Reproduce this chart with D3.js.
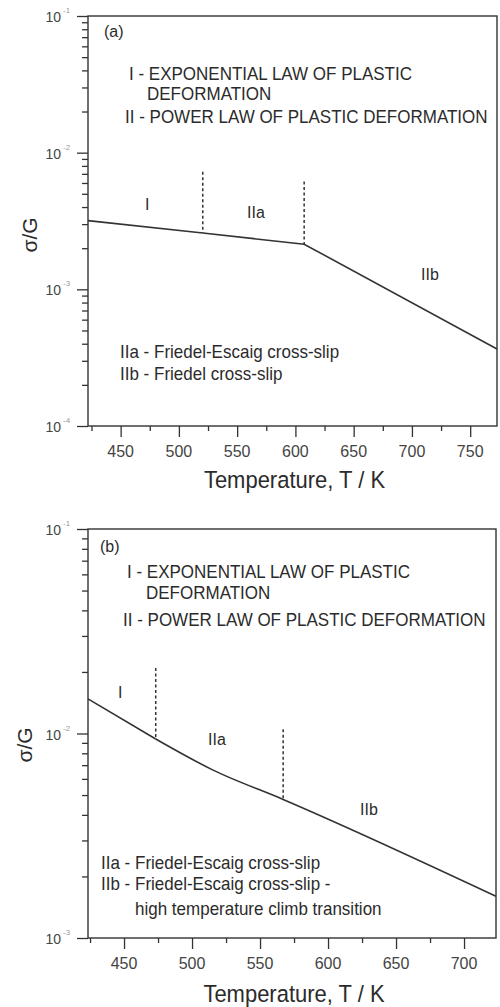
<!DOCTYPE html>
<html><head><meta charset="utf-8">
<script src="https://cdn.jsdelivr.net/npm/d3@7"></script>
<style>
body{margin:0;background:#fff;}
svg text{font-family:"Liberation Sans",Arial,Helvetica,sans-serif;fill:#2b2b2b;}
</style></head><body>
<svg id="chart" width="500" height="1007"></svg>
<script>
// Panel (a): flow stress vs temperature
const tempA = [422, 520.5, 607.5, 773];
const stressA = [3.18e-3, 2.58e-3, 2.14e-3, 3.66e-4];
const boundaryTempA = [520.5, 607.5];
const boundaryTopA = [7.26e-3, 6.14e-3];
const xTicksA = [450, 500, 550, 600, 650, 700, 750];
const yExpA = [-1, -2, -3, -4];

// Panel (b)
const tempB = [423.5, 473.3, 515.5, 567, 723.5];
const stressB = [0.01476, 9.4e-3, 6.62e-3, 4.76e-3, 1.60e-3];
const boundaryTempB = [473.3, 567];
const boundaryTopB = [0.0209, 0.0105];
const xTicksB = [450, 500, 550, 600, 650, 700];
const yExpB = [-1, -2, -3];

// Text
const regionLabels = ["I", "IIa", "IIb"];
const lawLines = ["I - EXPONENTIAL LAW OF PLASTIC", "DEFORMATION", "II - POWER LAW OF PLASTIC DEFORMATION"];
const mechA = ["IIa - Friedel-Escaig cross-slip", "IIb - Friedel cross-slip"];
const mechB = ["IIa - Friedel-Escaig cross-slip", "IIb - Friedel-Escaig cross-slip -", "high temperature climb transition"];
const xTitle = "Temperature, T / K";
const yTitle = "\u03C3/G";

const svg = d3.select("#chart");
const INK = "#333";

function txt(g, x, y, s, size, anchor) {
  return g.append("text")
    .attr("transform", `translate(${x},${y}) scale(1,1.08)`)
    .attr("font-size", size)
    .attr("text-anchor", anchor || "start")
    .text(s);
}

function panel(cfg) {
  const g = svg.append("g");
  const x = d3.scaleLinear().domain(cfg.xDomain).range([cfg.left, cfg.right]);
  const y = d3.scaleLog().domain([Math.pow(10, d3.min(cfg.yExp)), Math.pow(10, d3.max(cfg.yExp))])
    .range([cfg.bottom, cfg.top]);

  // y axis: major and minor ticks
  const minorY = [];
  cfg.yExp.slice(0, -1).forEach(e => {
    for (let m = 2; m <= 9; m++) minorY.push(m * Math.pow(10, e - 1));
  });
  const majorY = cfg.yExp.map(e => Math.pow(10, e));
  const yMinorAxis = d3.axisLeft(y).tickValues(minorY).tickSize(6).tickFormat("");
  const yMajorAxis = d3.axisLeft(y).tickValues(majorY).tickSize(11).tickFormat("");
  [yMinorAxis, yMajorAxis].forEach(ax => {
    const a = g.append("g").attr("transform", `translate(${cfg.left},0)`).call(ax);
    a.select(".domain").remove();
    a.selectAll("line").attr("stroke", INK).attr("stroke-width", 1.3);
  });

  // y tick labels as 10 with superscript exponent
  cfg.yExp.forEach(e => {
    const v = Math.pow(10, e);
    txt(g, cfg.left - 27, y(v) + 6, "10", 14, "end").style("fill", "#444");
    g.append("text").attr("x", cfg.left - 25).attr("y", y(v) - 3)
      .attr("font-size", 8).style("fill", "#999").text(String(e));
  });

  // x axis: major and minor ticks
  const minorX = d3.range(cfg.xTicks[0] - 25, cfg.xDomain[1], 50).filter(t => t >= cfg.xDomain[0]);
  const xMinorAxis = d3.axisBottom(x).tickValues(minorX).tickSize(5).tickFormat("");
  const xMajorAxis = d3.axisBottom(x).tickValues(cfg.xTicks).tickSize(11).tickFormat("");
  [xMinorAxis, xMajorAxis].forEach(ax => {
    const a = g.append("g").attr("transform", `translate(0,${cfg.bottom})`).call(ax);
    a.select(".domain").remove();
    a.selectAll("line").attr("stroke", INK).attr("stroke-width", 1.3);
  });
  cfg.xTicks.forEach(t => txt(g, x(t), cfg.bottom + 31, String(t), 16, "middle").style("fill", "#444"));

  // frame
  g.append("rect").attr("x", cfg.left).attr("y", cfg.top)
    .attr("width", cfg.right - cfg.left).attr("height", cfg.bottom - cfg.top)
    .attr("fill", "none").attr("stroke", INK).attr("stroke-width", 1.4);

  // stress curve: straight up to the first boundary, smooth beyond it
  const pts = d3.zip(cfg.temp, cfg.stress);
  const k = cfg.temp.indexOf(cfg.boundaryTemp[0]);
  const straight = d3.line().x(d => x(d[0])).y(d => y(d[1]));
  const smooth = d3.line().x(d => x(d[0])).y(d => y(d[1]))
    .curve(cfg.smooth ? d3.curveMonotoneX : d3.curveLinear);
  g.append("path").datum(pts.slice(0, k + 1)).attr("d", straight)
    .attr("fill", "none").attr("stroke", INK).attr("stroke-width", 1.6);
  g.append("path").datum(pts.slice(k)).attr("d", smooth)
    .attr("fill", "none").attr("stroke", INK).attr("stroke-width", 1.6);

  // regime boundaries
  cfg.boundaryTemp.forEach((t, i) => {
    const idx = cfg.temp.indexOf(t);
    g.append("line")
      .attr("x1", x(t)).attr("x2", x(t))
      .attr("y1", y(cfg.boundaryTop[i])).attr("y2", y(cfg.stress[idx]))
      .attr("stroke", INK).attr("stroke-width", 1.5).attr("stroke-dasharray", "3,2.5");
  });

  // region labels
  cfg.regionPos.forEach((p, i) => txt(g, p[0], p[1], regionLabels[i], 16));

  // panel tag and deformation-law key
  txt(g, cfg.tagPos[0], cfg.tagPos[1], cfg.tag, 16);
  lawLines.forEach((s, i) => txt(g, cfg.lawPos[i][0], cfg.lawPos[i][1], s, 17));
  cfg.mech.forEach((s, i) => txt(g, cfg.mechPos[i][0], cfg.mechPos[i][1], s, 17));

  // axis titles
  txt(g, (cfg.left + cfg.right) / 2 + 2, cfg.bottom + cfg.titleOffset, xTitle, 22, "middle");
  g.append("text")
    .attr("transform", `translate(${cfg.yTitlePos[0]},${cfg.yTitlePos[1]}) rotate(-90)`)
    .attr("font-size", 21).attr("text-anchor", "middle").text(yTitle);
}

panel({
  left: 88, right: 497, top: 16, bottom: 426,
  xDomain: [422, 773], xTicks: xTicksA, yExp: yExpA, smooth: false,
  temp: tempA, stress: stressA, boundaryTemp: boundaryTempA, boundaryTop: boundaryTopA,
  regionPos: [[145, 210], [247, 218], [421, 280]],
  tag: "(a)", tagPos: [104, 37],
  lawPos: [[129, 80], [147, 100], [125, 123]],
  mech: mechA, mechPos: [[120, 358], [120, 380]],
  titleOffset: 62, yTitlePos: [37, 235]
});

panel({
  left: 88, right: 496, top: 529, bottom: 938,
  xDomain: [423.5, 723.5], xTicks: xTicksB, yExp: yExpB, smooth: true,
  temp: tempB, stress: stressB, boundaryTemp: boundaryTempB, boundaryTop: boundaryTopB,
  regionPos: [[118, 698], [208, 745], [360, 815]],
  tag: "(b)", tagPos: [100, 552],
  lawPos: [[127, 578], [146, 599], [123, 626]],
  mech: mechB, mechPos: [[101, 869], [101, 890], [135, 915]],
  titleOffset: 64, yTitlePos: [32, 745]
});
</script>
</body></html>
